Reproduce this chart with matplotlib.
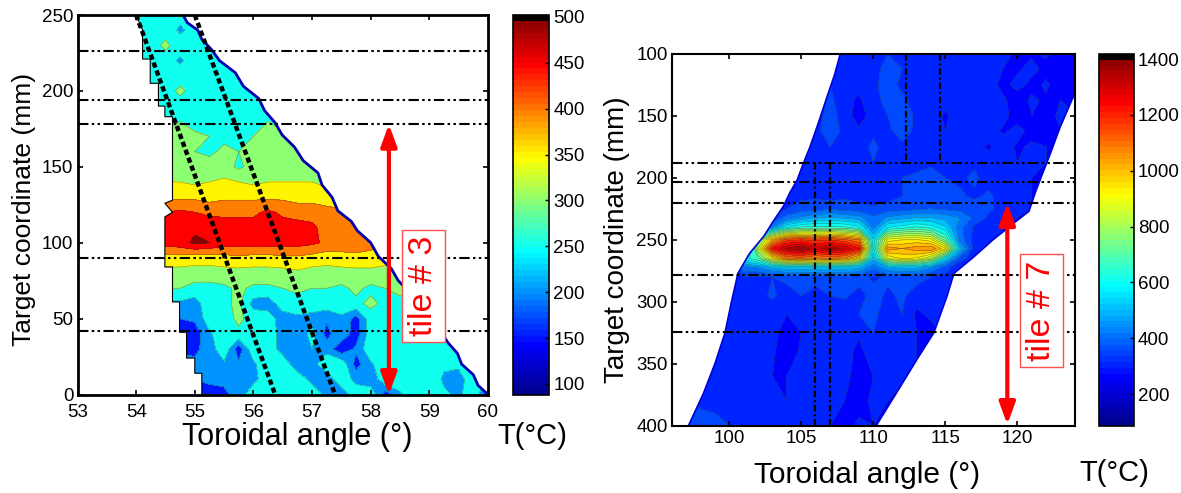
import numpy as np
import matplotlib
matplotlib.use("Agg")
import matplotlib.pyplot as plt
from matplotlib.colors import ListedColormap, Normalize
from matplotlib.cm import ScalarMappable
from matplotlib.patches import Polygon

plt.rcParams['font.family'] = ['Liberation Sans', 'DejaVu Sans']

# ---------- left panel data (tile 3), temperatures in units of 10 degC ----------
L_x = [54, 54.25, 54.5, 54.75, 55, 55.25, 55.5, 55.75, 56, 56.25, 56.5, 56.75, 57,
       57.25, 57.5, 57.75, 58, 58.25, 58.5, 58.75, 59, 59.25, 59.5, 59.75, 60]
L_y = list(range(0, 260, 10))
L_T = [
 [15,15,15,15,15,14,19,22,29,29,29,29,29,23,21,29,29,17,24,29,29,26,24,28,20],
 [20,20,20,20,20,23,21,22,23,29,29,29,23,21,29,23,21,29,29,29,29,24,23,28,24],
 [22,22,22,22,21,22,24,21,24,29,29,21,23,29,29,18,24,29,29,29,28,26,26,28,26],
 [19,19,19,19,19,22,29,17,29,29,22,21,25,23,16,21,29,29,29,29,28,28,28,28,28],
 [20,20,20,15,17,24,29,29,29,29,22,21,27,18,24,17,28,29,30,29,29,29,29,29,29],
 [22,22,22,20,21,28,28,31,28,28,22,24,23,21,24,18,28,29,30,29,29,29,29,29,29],
 [24,24,24,24,23,28,29,31,23,22,28,28,28,28,28,29,31,29,29,29,29,29,29,29,29],
 [30,30,30,30,28,28,29,31,29,29,30,31,30,30,29,31,29,30,31,31,30,30,30,30,30],
 [33,33,33,33,33,33,33,33,33,33,33,34,33,33,33,33,33,33,33,33,33,33,33,33,33],
 [39,39,38,38,37,37,38,39,38,38,39,39,38,37,38,39,39,37,35,35,35,35,35,35,35],
 [47,47,47,48,51,50,47,47,47,47,47,47,46,44,43,42,41,41,38,38,38,38,38,38,38],
 [47,47,47,49,49,48,47,47,47,48,47,47,46,43,44,43,41,38,38,38,38,38,38,38,38],
 [45,45,45,46,45,44,44,44,44,46,44,43,43,42,41,40,39,38,38,38,38,38,38,38,38],
 [39,39,39,39,39,38,39,39,39,39,39,38,38,37,37,37,37,37,37,37,37,37,37,37,37],
 [35,35,35,35,34,35,36,35,34,35,35,35,35,34,35,35,35,35,35,35,35,35,35,35,35],
 [32,32,32,32,31,32,32,29,32,31,32,33,32,32,32,32,32,32,32,32,32,32,32,32,32],
 [31,31,31,31,30,29,31,30,31,31,31,30,31,31,31,31,31,31,31,31,31,31,31,31,31],
 [31,31,31,31,31,30,29,29,30,31,31,31,31,31,31,31,31,31,31,31,31,31,31,31,31],
 [28,28,28,30,28,28,28,28,28,30,28,28,28,28,28,28,28,28,28,28,28,28,28,28,28],
 [28,28,30,28,28,28,28,28,28,28,28,28,28,28,28,28,28,28,28,28,28,28,28,28,28],
 [28,28,28,31,28,28,28,28,28,28,28,28,28,28,28,28,28,28,28,28,28,28,28,28,28],
 [28,28,28,28,28,28,28,28,28,28,28,28,28,28,28,28,28,28,28,28,28,28,28,28,28],
 [28,28,28,24,28,28,27,28,28,28,28,28,28,28,28,28,28,28,28,28,28,28,28,28,28],
 [28,28,31,28,28,28,28,28,28,28,28,28,28,28,28,28,28,28,28,28,28,28,28,28,28],
 [28,30,28,24,27,27,28,28,28,28,28,28,28,28,28,28,28,28,28,28,28,28,28,28,28],
 [28,28,28,27,27,28,28,28,28,28,28,28,28,28,28,28,28,28,28,28,28,28,28,28,28],
]
L_edge_y = [0, 14, 14, 24, 24, 41, 41, 61, 61, 84, 84, 117, 120, 126, 128, 183, 183,
            190, 190, 205, 205, 221, 221, 240, 250]
L_edge_x = [55.12, 55.12, 55.0, 55.0, 54.86, 54.86, 54.74, 54.74, 54.62, 54.62, 54.49,
            54.49, 54.62, 54.49, 54.62, 54.62, 54.49, 54.49, 54.38, 54.38, 54.24, 54.24,
            54.11, 54.11, 54.0]
R_edge_y = [0, 6, 13, 20, 27, 34, 44, 55, 65, 75, 83, 91, 100, 108, 114, 121, 130, 138,
            146, 154, 163, 171, 179, 187, 195, 203, 212, 220, 227, 234, 240, 245, 250]
R_edge_x = [60.0, 59.83, 59.75, 59.55, 59.48, 59.32, 59.15, 58.85, 58.72, 58.47, 58.35,
            58.13, 58.0, 57.77, 57.67, 57.44, 57.34, 57.17, 57.1, 56.85, 56.7, 56.49,
            56.37, 56.19, 56.09, 55.83, 55.69, 55.42, 55.29, 55.12, 55.05, 54.87, 54.8]
L_hlines = [226, 194, 178.5, 90, 41.7]
L_diag1_x, L_diag1_y = [54.0, 56.37], [250, 0]
L_diag2_x, L_diag2_y = [55.0, 57.39], [250, 0]
L_arrow_x, L_arrow_y = 58.31, [178, 0]
L_levels = [100, 150, 200, 250, 300, 350, 400, 450, 500, 700]
L_ticks = [100, 150, 200, 250, 300, 350, 400, 450, 500]

# ---------- right panel data (tile 7), temperatures in units of 10 degC ----------
H_x = list(range(96, 125))
H_y = [100, 112, 125, 137, 150, 162, 175, 187, 200, 215, 225, 232, 240, 250, 257, 265, 272, 280, 295, 310,
       325, 340, 360, 380, 400]
H_T = [
 [32,32,32,32,32,32,32,32,32,32,32,32,33,34,32,35,33,31,34,31,33,32,34,33,28,29,31,27,27],
 [32,32,32,32,32,32,32,32,32,32,32,33,32,33,34,36,35,32,31,33,32,33,31,30,29,32,28,30,29],
 [32,32,32,32,32,32,32,32,32,31,32,35,31,32,34,37,34,31,32,31,34,30,33,28,32,28,31,26,28],
 [32,32,32,32,32,32,32,32,32,32,33,36,32,29,34,36,36,33,32,32,31,33,32,31,27,31,29,30,30],
 [32,32,32,32,32,32,32,32,32,32,33,37,33,27,33,35,38,34,33,29,33,31,33,32,27,30,28,31,30],
 [32,32,32,32,32,32,32,32,32,32,34,37,34,31,34,34,37,34,32,30,34,31,33,29,32,28,30,30,30],
 [32,32,32,32,32,32,32,32,32,33,34,35,33,33,36,33,34,32,33,32,32,32,29,33,29,31,30,30,30],
 [32,32,32,32,32,32,32,32,33,33,34,34,32,33,35,33,34,33,34,33,32,34,33,32,30,32,30,30,30],
 [32,32,32,32,32,32,32,32,33,32,34,35,33,32,33,32,35,36,37,35,34,36,33,35,32,30,30,30,30],
 [32,32,32,32,32,32,32,32,34,34,34,33,34,33,32,33,35,36,37,38,36,34,36,33,31,30,30,30,30],
 [32,32,32,32,32,32,32,33,35,37,38,39,38,37,36,37,38,39,40,39,38,38,36,33,31,30,30,30,30],
 [32,32,32,32,32,32,32,35,42,46,49,50,49,47,41,46,48,50,50,48,45,39,34,31,30,30,30,30,30],
 [32,32,32,32,32,32,34,46,60,66,67,67,66,62,44,60,63,66,63,56,42,34,31,30,30,30,30,30,30],
 [32,32,32,32,32,32,75,102,118,120,118,120,116,110,56,92,95,96,92,72,43,33,31,30,30,30,30,30,30],
 [32,32,32,32,32,32,85,125,136,141,132,138,134,126,58,108,105,108,110,96,52,33,31,30,30,30,30,30,30],
 [32,32,32,32,32,62,70,92,110,112,108,110,108,96,52,90,96,94,84,56,38,31,30,30,30,30,30,30,30],
 [32,32,32,32,32,44,46,52,54,54,54,54,54,52,42,50,52,52,46,38,30,30,30,30,30,30,30,30,30],
 [32,32,32,32,32,34,34,35,37,37,38,37,38,37,34,36,37,37,35,33,30,30,30,30,30,30,30,30,30],
 [31,31,31,31,31,34,33,36,32,35,32,35,36,33,37,34,36,32,31,31,31,31,31,31,31,31,31,31,31],
 [31,31,31,31,31,33,32,31,30,33,34,33,31,35,36,33,35,29,31,31,31,31,31,31,31,31,31,31,31],
 [31,31,31,31,31,32,30,32,27,30,32,33,31,31,35,32,33,30,28,31,31,31,31,31,31,31,31,31,31],
 [32,32,32,32,32,30,32,31,26,31,31,32,33,28,34,31,32,30,29,31,31,31,31,31,31,31,31,31,31],
 [32,32,32,32,32,33,31,30,30,31,33,31,32,27,30,32,31,30,29,31,31,31,31,31,31,31,31,31,31],
 [35,36,34,34,32,30,31,33,30,31,31,32,30,28,31,30,28,31,31,31,31,31,31,31,31,31,31,31,31],
 [36,37,37,36,35,32,31,32,31,32,31,30,28,31,30,28,31,31,31,31,31,31,31,31,31,31,31,31,31],
]
H_edge_left_y = [400, 374, 350, 325, 300, 277, 261, 247, 235, 223, 212, 202, 188, 175, 155, 134, 117, 100]
H_edge_left_x = [97.16, 98.2, 99.0, 99.7, 100.15, 100.6, 101.4, 102.4, 103.05, 103.75, 104.2,
                 104.7, 105.15, 105.6, 106.2, 106.8, 107.3, 107.7]
H_edge_right_y = [100, 124, 134, 159, 180, 210, 227, 237, 250, 264, 277, 296, 325, 347, 368, 400]
H_edge_right_x = [124.4, 124.0, 123.9, 122.97, 122.3, 121.3, 120.8, 119.7, 118.3, 116.95, 115.6,
                  115.1, 114.2, 113.0, 111.9, 110.2]
H_hlines = [187.7, 203, 220, 278, 324]
H_vlow_x, H_vlow_y = [105.98, 107.0], [188, 400]
H_vhigh_x, H_vhigh_y = [112.3, 114.6], [100, 188]
H_arrow_x, H_arrow_y = 119.3, [220, 399]
H_levels = list(range(100, 1450, 50))
H_ticks = [200, 400, 600, 800, 1000, 1200, 1400]

W, H = 1181, 493
def box(l, t, r, b):
    return [l / W, 1 - b / H, (r - l) / W, (b - t) / H]

u = np.linspace(0, 1, 256)
jet = ListedColormap(np.column_stack([
    np.interp(u, [0, .375, .625, .875, 1], [0, 0, 1, 1, .5]),
    np.interp(u, [0, .125, .375, .625, .875, 1], [0, 0, 1, 1, 0, 0]),
    np.interp(u, [0, .125, .375, .625, 1], [.5625, 1, 1, 0, 0])]))
bar_colors = jet(np.linspace(0, 1, 64))
bar_colors[-1] = (0, 0, 0, 1)
bar_cmap = ListedColormap(bar_colors)
DDD = (0, (5, 1.6, 1.2, 1.6, 1.2, 1.6))
HEAD = '<|-|>,head_length=0.6,head_width=0.22'

fig = plt.figure(figsize=(W / 100, H / 100), dpi=100)


def panel(ax, xs, ys, T, levels, vmin, vmax, poly):
    Z = np.array(T, float) * 10
    norm = Normalize(vmin, vmax)
    cols = [jet(min(norm(v), 0.985)) for v in levels[:-1]]
    cf = ax.contourf(xs, ys, Z, levels=levels, colors=cols, extend='neither', zorder=1)
    cl = ax.contour(xs, ys, Z, levels=levels, colors='#303030', linewidths=0.4, alpha=0.55, zorder=1.5)
    patch = Polygon(poly, closed=True, transform=ax.transData, fc='none', ec='none')
    ax.add_patch(patch)
    cf.set_clip_path(patch)
    cl.set_clip_path(patch)


def colorbar(rect, vmin, vmax, ticks, lw, size):
    cax = fig.add_axes(box(*rect))
    cb = fig.colorbar(ScalarMappable(Normalize(vmin, vmax), bar_cmap), cax=cax)
    cb.set_ticks(ticks)
    cb.ax.tick_params(direction='in', length=3, width=1, labelsize=size, pad=3, colors='black')
    cb.outline.set_linewidth(lw)
    cb.ax.minorticks_off()


# ---------- left ----------
ax = fig.add_axes(box(77.5, 15, 488, 394.5))
poly = np.column_stack([L_edge_x + R_edge_x[::-1], L_edge_y + R_edge_y[::-1]])
panel(ax, L_x, L_y, L_T, L_levels, 88, 502, poly)
ax.plot(L_edge_x, L_edge_y, color='black', lw=0.8, zorder=2)
ax.plot(R_edge_x, R_edge_y, color='#0000b0', lw=2.0, zorder=2, solid_capstyle='butt')
ax.set_xlim(53, 60)
ax.set_ylim(0, 250)
for y in L_hlines:
    ax.axhline(y, color='black', lw=1.5, ls=DDD, zorder=3)
ax.plot(L_diag1_x, L_diag1_y, color='black', lw=3.2, ls=(0, (1.2, 0.7)), zorder=4)
ax.plot(L_diag2_x, L_diag2_y, color='black', lw=3.2, ls=(0, (1.2, 0.7)), zorder=4)
ax.annotate('', xy=(L_arrow_x, L_arrow_y[0]), xytext=(L_arrow_x, L_arrow_y[1]),
            arrowprops=dict(arrowstyle=HEAD, color='red', lw=3, shrinkA=0, shrinkB=0,
                            mutation_scale=22), zorder=5)
ax.set_xticks(range(53, 61))
ax.set_yticks(range(0, 251, 50))
ax.tick_params(direction='in', top=True, right=True, length=3.5, width=1.2, labelsize=13.5, pad=3)
ax.tick_params(axis='x', pad=7)
for s in ax.spines.values():
    s.set_linewidth(2)
    s.set_zorder(6)
fig.text(297 / W, 1 - 437 / H, 'Toroidal angle (°)', fontsize=22, ha='center', va='center')
fig.text(24 / W, 1 - 209 / H, 'Target coordinate (mm)', fontsize=19, rotation=90, ha='center', va='center')
fig.text(532 / W, 1 - 436 / H, 'T(°C)', fontsize=21, ha='center', va='center')
colorbar((512.7, 15, 549, 395), 88, 502, L_ticks, 1.2, 13.5)
fig.text(423.7 / W, 1 - 286 / H, 'tile # 3', color='red', fontsize=24.5, rotation=90, ha='center', va='center',
         zorder=10, bbox=dict(boxstyle='square,pad=0.18', fc='white', ec='#ff5050', lw=1))

# ---------- right ----------
ax = fig.add_axes(box(671.7, 54, 1075, 425.7))
poly = np.column_stack([H_edge_left_x + H_edge_right_x, H_edge_left_y + H_edge_right_y])
panel(ax, H_x, H_y, H_T, H_levels, 86, 1418, poly)
ax.plot(H_edge_left_x, H_edge_left_y, color='#0000d8', lw=1.2, zorder=2)
ax.plot(H_edge_right_x, H_edge_right_y, color='#0000d8', lw=1.2, zorder=2)
ax.set_xlim(96, 124)
ax.set_ylim(400, 100)
for y in H_hlines:
    ax.axhline(y, color='black', lw=1.5, ls=DDD, zorder=3)
for x in H_vlow_x:
    ax.plot([x, x], H_vlow_y, color='black', lw=1.6, ls=(0, (3, 1.2, 1, 1.2)), zorder=3)
for x in H_vhigh_x:
    ax.plot([x, x], H_vhigh_y, color='black', lw=1.6, ls=(0, (3, 1.2, 1, 1.2)), zorder=3)
ax.annotate('', xy=(H_arrow_x, H_arrow_y[0]), xytext=(H_arrow_x, H_arrow_y[1]),
            arrowprops=dict(arrowstyle=HEAD, color='red', lw=3, shrinkA=0, shrinkB=0,
                            mutation_scale=22), zorder=5)
ax.set_xticks(range(100, 121, 5))
ax.set_yticks(range(100, 401, 50))
ax.tick_params(direction='in', top=True, right=True, length=3.5, width=1.2, labelsize=13.5, pad=3)
for s in ax.spines.values():
    s.set_linewidth(1.5)
    s.set_zorder(6)
fig.text(867 / W, 1 - 475 / H, 'Toroidal angle (°)', fontsize=21.5, ha='center', va='center')
fig.text(617 / W, 1 - 240 / H, 'Target coordinate (mm)', fontsize=20, rotation=90, ha='center', va='center')
fig.text(1114 / W, 1 - 473 / H, 'T(°C)', fontsize=21, ha='center', va='center')
colorbar((1098.7, 54, 1133.7, 426), 86, 1418, H_ticks, 1.2, 13.5)
fig.text(1041.5 / W, 1 - 310.5 / H, 'tile # 7', color='red', fontsize=24.5, rotation=90, ha='center', va='center',
         zorder=10, bbox=dict(boxstyle='square,pad=0.18', fc='white', ec='#ff5050', lw=1))

fig.savefig('out.png', dpi=100)
